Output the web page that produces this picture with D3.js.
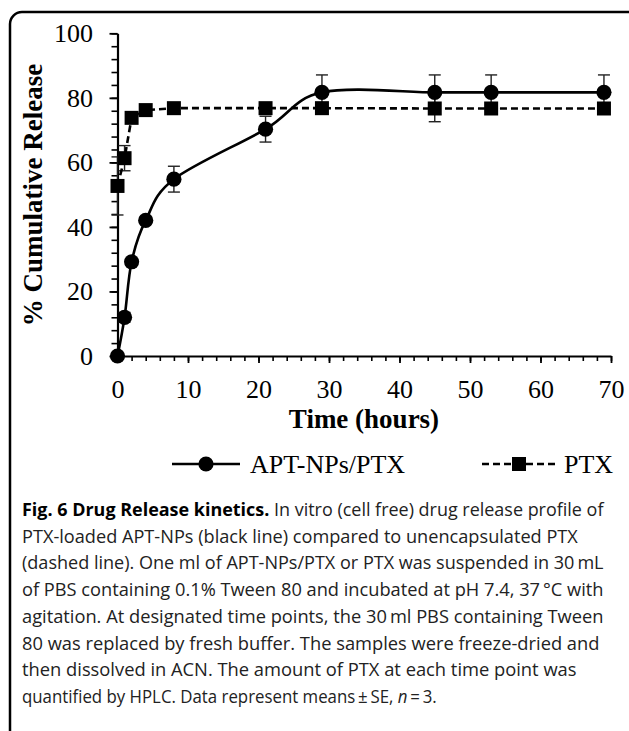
<!DOCTYPE html>
<html>
<head>
<meta charset="utf-8">
<script src="https://cdn.jsdelivr.net/npm/d3@7"></script>
<style>
	body { margin: 0; background: #fff; }
	svg { display: block; }
</style>
</head>
<body>
<svg id="chart" width="629" height="731"></svg>
<script>

// time points (hours)
var times = [0, 1, 2, 4, 8, 21, 29, 45, 53, 69];

// % cumulative release, APT-NPs/PTX
var aptValues = [0, 12, 29.2, 42, 54.8, 70.3, 81.7, 81.7, 81.7, 81.7];
var aptErrors = [0.5, 1.5, 1, 1, 4, 4, 5.4, 5.4, 5.4, 5.4];

// % cumulative release, free PTX
var ptxValues = [52.7, 61.3, 73.8, 76.2, 76.8, 76.8, 76.8, 76.7, 76.7, 76.7];
var ptxErrors = [9, 3.9, 1.5, 1, 1, 1.5, 1, 4.1, 1, 1];

var xTicks = [0, 10, 20, 30, 40, 50, 60, 70];
var yTicks = [0, 20, 40, 60, 80, 100];

var captionLines = [
	['Fig. 6 Drug Release kinetics.', ' In vitro (cell free) drug release profile of'],
	['', 'PTX-loaded APT-NPs (black line) compared to unencapsulated PTX'],
	['', '(dashed line). One ml of APT-NPs/PTX or PTX was suspended in 30\u2009mL'],
	['', 'of PBS containing 0.1% Tween 80 and incubated at pH 7.4, 37\u2009\u00b0C with'],
	['', 'agitation. At designated time points, the 30\u2009ml PBS containing Tween'],
	['', '80 was replaced by fresh buffer. The samples were freeze-dried and'],
	['', 'then dissolved in ACN. The amount of PTX at each time point was'],
	['', 'quantified by HPLC. Data represent means\u2009\u00b1\u2009SE, ']
];
var captionWidths = [582, 556, 582, 582, 582, 578, 555, 415];

var serif = '"Liberation Serif", "Times New Roman", serif';
var sans = '"Open Sans", "Noto Sans", sans-serif';

var svg = d3.select('#chart');

// frame round the figure
svg.append('rect')
	.attr('x', 10)
	.attr('y', 12)
	.attr('width', 640)
	.attr('height', 740)
	.attr('rx', 12)
	.attr('fill', 'none')
	.attr('stroke', '#000')
	.attr('stroke-width', 2.5);

var x = d3.scaleLinear().domain([0, 70]).range([117.5, 611]);
var y = d3.scaleLinear().domain([0, 100]).range([356, 33.3]);

// minor ticks first, then major axis with labels
svg.append('g')
	.attr('transform', 'translate(0,356)')
	.call(d3.axisBottom(x).tickValues(d3.range(0, 71, 2)).tickSize(5).tickSizeOuter(0).tickFormat(''))
	.call(function (g) { g.select('.domain').remove(); })
	.selectAll('line').attr('stroke-width', 1.6);

svg.append('g')
	.attr('transform', 'translate(117.5,0)')
	.call(d3.axisLeft(y).tickValues(d3.range(0, 101, 4)).tickSize(6).tickSizeOuter(0).tickFormat(''))
	.call(function (g) { g.select('.domain').remove(); })
	.selectAll('line').attr('stroke-width', 1.6);

var xAxis = svg.append('g')
	.attr('transform', 'translate(0,356)')
	.call(d3.axisBottom(x).tickValues(xTicks).tickSize(7).tickSizeOuter(0).tickPadding(16.5));

var yAxis = svg.append('g')
	.attr('transform', 'translate(117.5,0)')
	.call(d3.axisLeft(y).tickValues(yTicks).tickSize(8).tickSizeOuter(0).tickPadding(16.5));

[xAxis, yAxis].forEach(function (g) {
	g.select('.domain').attr('stroke-width', 2.2);
	g.selectAll('line').attr('stroke-width', 1.8);
	g.selectAll('text')
		.attr('font-family', serif)
		.attr('font-size', 26)
		.attr('fill', '#000');
});

// axis titles
svg.append('text')
	.attr('x', 364)
	.attr('y', 428)
	.attr('text-anchor', 'middle')
	.attr('font-family', serif)
	.attr('font-weight', 'bold')
	.attr('font-size', 27)
	.text('Time (hours)');

svg.append('text')
	.attr('transform', 'translate(42,195) rotate(-90)')
	.attr('text-anchor', 'middle')
	.attr('font-family', serif)
	.attr('font-weight', 'bold')
	.attr('font-size', 27)
	.text('% Cumulative Release');

var apt = times.map(function (t, i) { return { t: t, v: aptValues[i], e: aptErrors[i] }; });
var ptx = times.map(function (t, i) { return { t: t, v: ptxValues[i], e: ptxErrors[i] }; });

// error bars
var drawErrors = function (data) {
	var g = svg.append('g')
		.attr('stroke', '#222')
		.attr('stroke-width', 1.4);
	g.selectAll('.bar')
		.data(data)
		.enter()
		.append('line')
		.attr('x1', function (d) { return x(d.t); })
		.attr('x2', function (d) { return x(d.t); })
		.attr('y1', function (d) { return y(d.v - d.e); })
		.attr('y2', function (d) { return y(d.v + d.e); });
	[-1, 1].forEach(function (s) {
		g.selectAll('.cap' + s)
			.data(data)
			.enter()
			.append('line')
			.attr('x1', function (d) { return x(d.t) - 6; })
			.attr('x2', function (d) { return x(d.t) + 6; })
			.attr('y1', function (d) { return y(d.v + s * d.e); })
			.attr('y2', function (d) { return y(d.v + s * d.e); });
	});
};
drawErrors(ptx);
drawErrors(apt);

var ptxLine = d3.line()
	.x(function (d) { return x(d.t); })
	.y(function (d) { return y(d.v); });

var aptLine = d3.line()
	.curve(d3.curveCardinal.tension(0))
	.x(function (d) { return x(d.t); })
	.y(function (d) { return y(d.v); });

svg.append('path')
	.datum(ptx)
	.attr('d', ptxLine)
	.attr('fill', 'none')
	.attr('stroke', '#000')
	.attr('stroke-width', 2.6)
	.attr('stroke-dasharray', '7,4');

svg.append('path')
	.datum(apt)
	.attr('d', aptLine)
	.attr('fill', 'none')
	.attr('stroke', '#000')
	.attr('stroke-width', 2.6);

svg.selectAll('.sq')
	.data(ptx)
	.enter()
	.append('rect')
	.attr('x', function (d) { return x(d.t) - 7; })
	.attr('y', function (d) { return y(d.v) - 7; })
	.attr('width', 14)
	.attr('height', 14)
	.attr('fill', '#000');

svg.selectAll('.dot')
	.data(apt)
	.enter()
	.append('circle')
	.attr('cx', function (d) { return x(d.t); })
	.attr('cy', function (d) { return y(d.v); })
	.attr('r', 7.6)
	.attr('fill', '#000');

// legend
var legend = svg.append('g').attr('transform', 'translate(0,464)');

legend.append('line')
	.attr('x1', 172).attr('x2', 240)
	.attr('stroke', '#000').attr('stroke-width', 2.6);
legend.append('circle')
	.attr('cx', 206).attr('r', 7.6).attr('fill', '#000');
legend.append('text')
	.attr('x', 250).attr('dy', '0.33em')
	.attr('font-family', serif).attr('font-size', 26)
	.text('APT-NPs/PTX');

legend.append('line')
	.attr('x1', 482).attr('x2', 556)
	.attr('stroke', '#000').attr('stroke-width', 2.6)
	.attr('stroke-dasharray', '7,4');
legend.append('rect')
	.attr('x', 512).attr('y', -7).attr('width', 14).attr('height', 14).attr('fill', '#000');
legend.append('text')
	.attr('x', 564).attr('dy', '0.33em')
	.attr('font-family', serif).attr('font-size', 26)
	.text('PTX');

// caption: each line squeezed horizontally to the width it has in the figure
var caption = svg.append('g')
	.attr('font-family', sans)
	.attr('font-size', 17.5)
	.attr('fill', '#222');

captionLines.forEach(function (parts, i) {
	var t = caption.append('text');
	if (parts[0]) {
		t.append('tspan').attr('font-weight', 'bold').attr('fill', '#000').text(parts[0]);
	}
	t.append('tspan').text(parts[1]);
	if (i === captionLines.length - 1) {
		t.append('tspan').attr('font-style', 'italic').text('n');
		t.append('tspan').text('\u2009=\u20093.');
	}
	var k = captionWidths[i] / t.node().getComputedTextLength();
	t.attr('transform', 'translate(22,' + (516 + i * 26.7) + ') scale(' + k + ',1)');
});

</script>
</body>
</html>
